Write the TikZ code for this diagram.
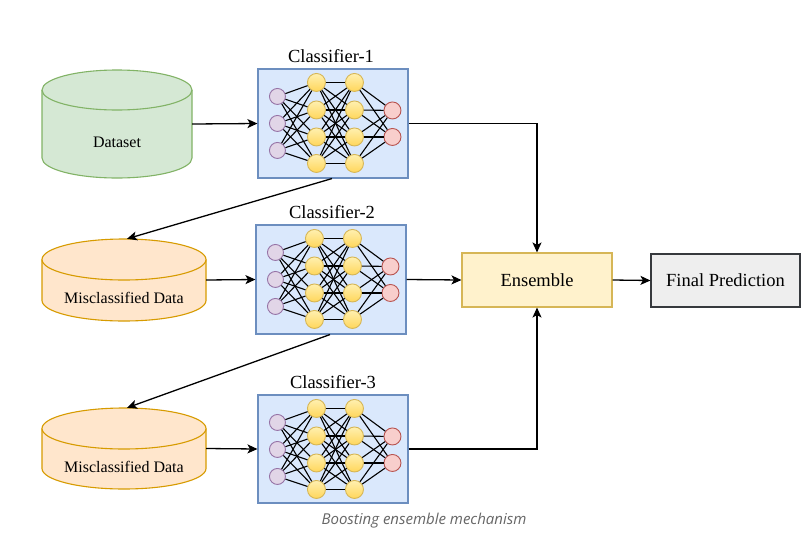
\documentclass[tikz,border=0pt]{standalone}
\usepackage{fontspec}
\setmainfont{Liberation Serif}
\newfontfamily\capfont{Open Sans}
\usetikzlibrary{calc,arrows.meta}
\definecolor{boxfill}{HTML}{DAE8FC}
\definecolor{boxdraw}{HTML}{6C8EBF}
\definecolor{infill}{HTML}{E1D5E7}
\definecolor{indraw}{HTML}{9673A6}
\definecolor{hidtop}{HTML}{FFF0B0}
\definecolor{hidbot}{HTML}{FFD65A}
\definecolor{hiddraw}{HTML}{D6B656}
\definecolor{outfill}{HTML}{F8CECC}
\definecolor{outdraw}{HTML}{B85450}
\definecolor{greenfill}{HTML}{D5E8D4}
\definecolor{greendraw}{HTML}{82B366}
\definecolor{orfill}{HTML}{FFE6CC}
\definecolor{ordraw}{HTML}{D79B00}
\definecolor{ensfill}{HTML}{FFF2CC}
\definecolor{ensdraw}{HTML}{D6B656}
\definecolor{finfill}{HTML}{EEEEEE}
\definecolor{findraw}{HTML}{36393D}
\definecolor{capgray}{HTML}{666666}
\newcommand{\mycyl}[7]{% x1 x2 yt yb ry fill draw
  \pgfmathsetmacro\cylcx{(#1+#2)/2}
  \pgfmathsetmacro\cylrx{(#2-#1)/2}
  \pgfmathsetmacro\cylk{0.5523}
  \path[fill=#6,draw=#7,line width=1.1pt]
    ({#1},{#3+#5}) -- ({#1},{#4-#5})
    .. controls ({#1},{#4-#5+\cylk*#5}) and ({\cylcx-\cylk*\cylrx},{#4}) .. ({\cylcx},{#4})
    .. controls ({\cylcx+\cylk*\cylrx},{#4}) and ({#2},{#4-#5+\cylk*#5}) .. ({#2},{#4-#5})
    -- ({#2},{#3+#5});
  \path[fill=#6,draw=#7,line width=1.1pt] ({\cylcx},{#3+#5}) ellipse [x radius=\cylrx, y radius=#5];
}
\begin{document}
\begin{tikzpicture}[x=1pt,y=-1pt,
  clsbox/.style={draw=boxdraw,fill=boxfill,line width=1.1pt,minimum width=150pt,minimum height=108pt,inner sep=0pt},
  inp/.style={circle,draw=indraw,fill=infill,line width=0.9pt,minimum size=16pt,inner sep=0pt},
  hid/.style={circle,draw=hiddraw,top color=hidtop,bottom color=hidbot,line width=0.9pt,minimum size=18pt,inner sep=0pt},
  outn/.style={circle,draw=outdraw,fill=outfill,line width=0.9pt,minimum size=17pt,inner sep=0pt},
  edge/.style={draw=black,line width=1.1pt},
  conn/.style={draw=black,line width=1.3pt,-{Stealth[length=10pt,width=9pt,inset=2.5pt]}},
  lbl/.style={font=\fontsize{18.5}{22}\selectfont,anchor=base,inner sep=0pt},
  cyltxt/.style={font=\fontsize{16}{19}\selectfont,inner sep=0pt},
  flatbox/.style={line width=1.1pt,minimum width=150pt,minimum height=53pt,inner sep=0pt,font=\fontsize{18.5}{22}\selectfont}
]
\path[use as bounding box,fill=white] (0,0) rectangle (805,552);

% cylinders
\mycyl{42}{192}{70}{178}{20}{greenfill}{greendraw}
\mycyl{42}{206}{239}{321}{20.5}{orfill}{ordraw}
\mycyl{42}{206}{408}{489}{20.5}{orfill}{ordraw}
\node[inner sep=0pt,minimum width=150pt,minimum height=108pt] (ds) at (117,124) {};
\node[inner sep=0pt,minimum width=164pt,minimum height=82pt] (m1) at (124,280) {};
\node[inner sep=0pt,minimum width=164pt,minimum height=81pt] (m2) at (124,448.5) {};
\node[cyltxt] (dst) at (117,142) {Dataset};
\node[cyltxt] (m1t) at (124,298) {Misclassified Data};
\node[cyltxt] (m2t) at (124,467) {Misclassified Data};

% classifiers
\node[clsbox,minimum height=109pt] (c1) at (333,123.5) {};
\node[clsbox,minimum height=109pt] (c2) at (331,279.5) {};
\node[clsbox] (c3) at (333,449) {};
\node[lbl] (c1l) at (331,62) {Classifier-1};
\node[lbl] (c2l) at (332,218) {Classifier-2};
\node[lbl] (c3l) at (333,388) {Classifier-3};

\foreach \c in {c1,c2,c3}{
  \foreach \k/\yy in {1/28,2/55,3/82}
    \node[inp] (\c-i\k) at ($(\c.north west)+(20,\yy)$) {};
  \foreach \k/\yy in {1/14,2/41.5,3/68.5,4/95}{
    \node[hid] (\c-h\k) at ($(\c.north west)+(59,\yy)$) {};
    \node[hid] (\c-g\k) at ($(\c.north west)+(97,\yy)$) {};
  }
  \foreach \k/\yy in {1/42,2/68.5}
    \node[outn] (\c-o\k) at ($(\c.north west)+(135,\yy)$) {};
  \foreach \a in {1,2,3}{\foreach \b in {1,2,3,4}{\draw[edge] (\c-i\a) -- (\c-h\b);}}
  \foreach \a in {1,2,3,4}{\foreach \b in {1,2,3,4}{\draw[edge] (\c-h\a) -- (\c-g\b);}}
  \foreach \a in {1,2,3,4}{\foreach \b in {1,2}{\draw[edge] (\c-g\a) -- (\c-o\b);}}
}

% ensemble and final
\node[flatbox,draw=ensdraw,fill=ensfill,minimum height=54pt] (ens) at (537,280) {Ensemble};
\node[flatbox,draw=findraw,fill=finfill,minimum width=149pt] (fin) at (725.5,280.5) {Final Prediction};

% connectors
\draw[conn] (ds.east) -- (c1.west);
\draw[conn] (m1.east) -- (c2.west);
\draw[conn] (m2.east) -- (c3.west);
\coordinate (m1top) at ($(m1.north)+(3,0)$);
\coordinate (m2top) at ($(m2.north)+(3,0)$);
\draw[conn] ($(c1.south)+(-1,0)$) -- (m1top);
\draw[conn] ($(c2.south)+(-1,0)$) -- (m2top);
\draw[conn] (c1.east) -| (ens.north);
\draw[conn] (c2.east) -- (ens.west);
\draw[conn] (c3.east) -| (ens.south);
\draw[conn] (ens.east) -- (fin.west);

% caption
\node[font=\capfont\itshape\fontsize{15}{18}\selectfont,text=capgray,inner sep=0pt] (cap) at (424,521) {Boosting ensemble mechanism};
\end{tikzpicture}
\end{document}
